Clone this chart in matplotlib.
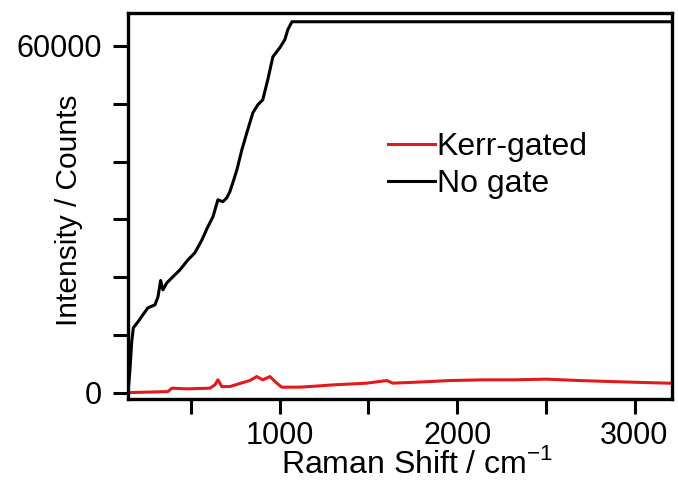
import matplotlib.pyplot as plt
import numpy as np

plt.rcParams['font.family'] = ['Liberation Sans', 'DejaVu Sans']
plt.rcParams['mathtext.fontset'] = 'custom'
plt.rcParams['mathtext.rm'] = 'Liberation Sans'

# No gate (saturates at detector limit)
nogate_x = [144, 155, 165, 174, 200, 228, 256, 296, 313, 328, 341, 363, 397, 437,
            482, 521, 561, 594, 623, 651, 679, 701, 718, 735, 758, 786, 814, 848,
            876, 904, 932, 961, 1000, 1028, 1045, 1068, 3210]
nogate_y = [0, 4000, 8870, 11250, 12280, 13500, 14700, 15220, 16600, 19430, 17820,
            19030, 20070, 21280, 23010, 24220, 26470, 28720, 30450, 33390, 33050,
            33740, 34770, 36330, 38580, 42040, 44980, 48440, 49820, 50690, 54150,
            58130, 59690, 61070, 62800, 64180, 64180]

# Kerr-gated
kerr_x = [144, 155, 369, 391, 476, 606, 634, 651, 673, 718, 792, 831, 870, 904,
          944, 983, 1011, 1113, 1225, 1299, 1490, 1603, 1637, 1772, 1958, 2144,
          2313, 2504, 2690, 2876, 3068, 3197]
kerr_y = [0, 50, 220, 810, 690, 810, 1380, 2250, 1090, 1090, 1780, 2130, 2820,
          2250, 2820, 1670, 980, 990, 1210, 1380, 1680, 2130, 1680, 1850, 2130,
          2250, 2250, 2370, 2130, 1950, 1780, 1670]

fig = plt.figure(figsize=(6.78, 4.8), dpi=100)
ax = fig.add_axes([0.1888, 0.169, 0.802, 0.804])

ax.plot(kerr_x, kerr_y, color='#e01b1b', lw=2.2, label='Kerr-gated')
ax.plot(nogate_x, nogate_y, color='black', lw=2.2, label='No gate')

ax.set_xlim(144, 3210)
ax.set_ylim(-1040, 65700)
ax.set_xticks(np.arange(500, 3001, 500))
ax.set_xticklabels(['', '1000', '', '2000', '', '3000'])
ax.set_yticks(np.arange(0, 60001, 10000))
ax.set_yticklabels(['0', '', '', '', '', '', '60000'])
ax.tick_params(direction='out', length=11, width=2.2, labelsize=22)
ax.tick_params(axis='y', pad=8)
ax.tick_params(axis='x', pad=5)
for s in ax.spines.values():
    s.set_linewidth(2.4)

ax.set_xlabel(r'Raman Shift / cm$^{\mathregular{-1}}$', fontsize=23)
ax.xaxis.set_label_coords(0.531, -0.128)
ax.set_ylabel('Intensity / Counts', fontsize=21.5)
ax.yaxis.set_label_coords(-0.083, 0.49)

ax.legend(loc='upper left', bbox_to_anchor=(0.478, 0.691), frameon=False,
          fontsize=23, handlelength=1.47, handletextpad=0.06, labelspacing=0.225,
          borderpad=0, borderaxespad=0)

fig.savefig('out.png')
